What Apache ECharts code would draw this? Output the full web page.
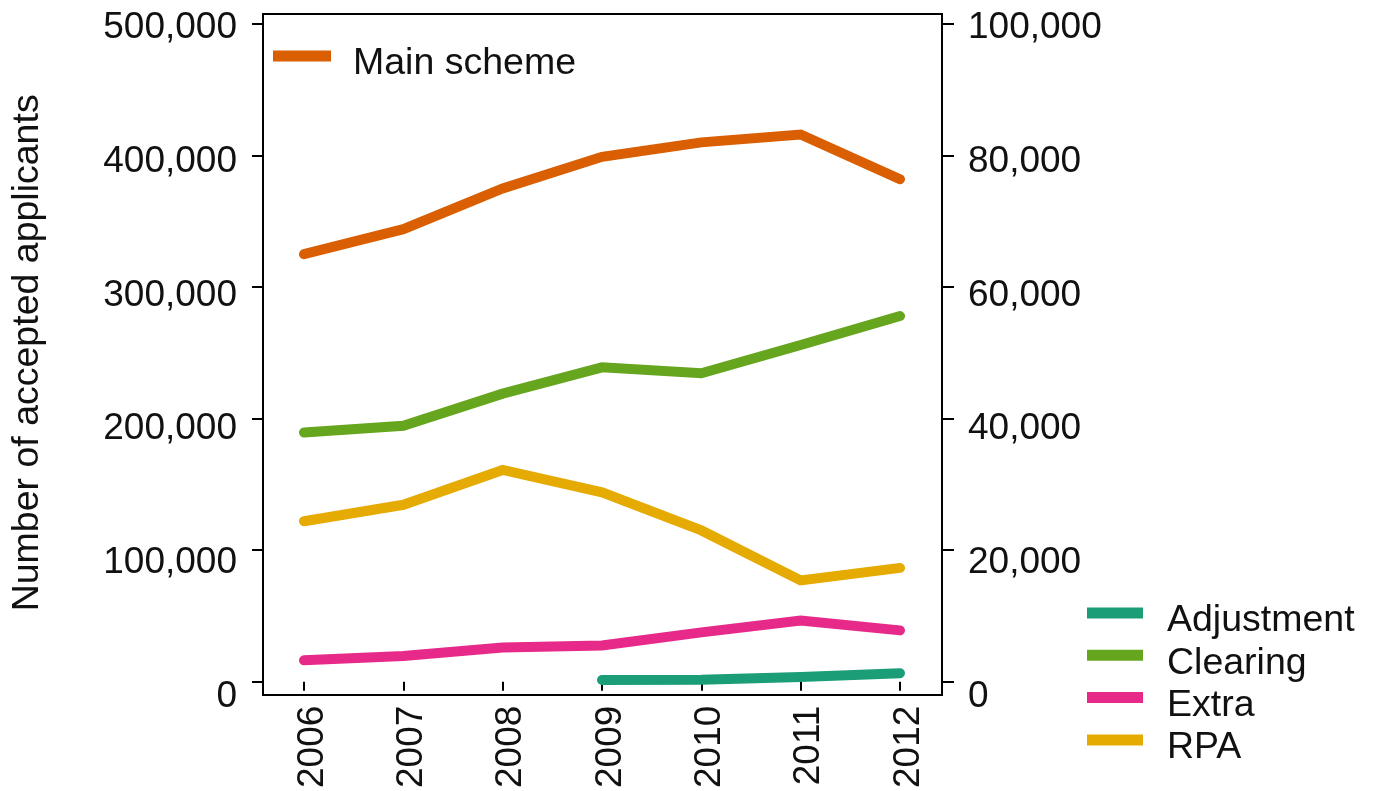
<!DOCTYPE html>
<html>
<head>
<meta charset="utf-8">
<script src="https://cdn.jsdelivr.net/npm/echarts@6/dist/echarts.min.js"></script>
<style>
html,body{margin:0;padding:0;background:#fff;}
#chart{width:1374px;height:791px;}
</style>
</head>
<body>
<div id="chart"></div>
<script>
// ---- data ----
const years = ['2006','2007','2008','2009','2010','2011','2012'];
const mainScheme = [325000, 344000, 375000, 399000, 410000, 416000, 382000];
const adjustment = [null, null, null, 250, 300, 700, 1300];
const clearing = [37900, 38900, 43800, 47800, 46900, 51200, 55600];
const extra = [3250, 3900, 5200, 5500, 7500, 9300, 7800];
const rpa = [24400, 26900, 32200, 28800, 23000, 15400, 17300];
const leftTicks = {min: 0, max: 500000, interval: 100000};
const rightTicks = {min: 0, max: 100000, interval: 20000};
const yTitle = 'Number of accepted applicants';

const FONT = 'Liberation Sans, Arial, Helvetica, sans-serif';
const TXT = '#111';
const fmt = v => Number(v).toLocaleString('en-US');

const chart = echarts.init(document.getElementById('chart'), null, {renderer: 'canvas'});

function lineSeries(name, data, color, yIdx) {
  return {
    name: name, type: 'line', data: data,
    xAxisIndex: 1, yAxisIndex: yIdx,
    showSymbol: false, symbol: 'none', connectNulls: false,
    lineStyle: {width: 10, color: color, cap: 'round', join: 'miter'},
    itemStyle: {color: color},
    emphasis: {disabled: true},
    animation: false
  };
}

const legendText = {fontFamily: FONT, fontSize: 37.5, color: TXT, lineHeight: 36};
const tickStyle = {color: '#000', width: 2};

// tick-only value axis (grid 1) and label-only value axis (grid 2)
function tickAxis(pos, offset, ticks, len, extra) {
  return Object.assign({gridIndex: 1, type: 'value', position: pos, offset: offset,
    min: ticks.min, max: ticks.max, interval: ticks.interval,
    axisLine: {show: false},
    axisTick: {show: true, length: len, lineStyle: tickStyle},
    axisLabel: {show: false},
    splitLine: {show: false}}, extra || {});
}
function labelAxis(pos, ticks) {
  return {gridIndex: 2, type: 'value', position: pos,
    min: ticks.min, max: ticks.max, interval: ticks.interval,
    axisLine: {show: false}, axisTick: {show: false}, splitLine: {show: false},
    axisLabel: {margin: 26, fontFamily: FONT, fontSize: 37, color: TXT, formatter: fmt}};
}

chart.setOption({
  backgroundColor: '#fff',
  animation: false,
  grid: [
    {left: 263, right: 432, top: 14, bottom: 96, show: true,
     borderColor: '#000', borderWidth: 2, backgroundColor: 'transparent'},
    {left: 304, right: 474, top: 24, bottom: 106.5},
    {left: 263, right: 432, top: 28, bottom: 94.5}
  ],
  xAxis: [
    {gridIndex: 0, type: 'value', show: false},
    {gridIndex: 1, type: 'category', data: years, boundaryGap: false, offset: 11,
     axisLine: {show: false},
     axisTick: {show: true, length: 9, lineStyle: tickStyle},
     axisLabel: {rotate: 90, margin: 13, fontFamily: FONT, fontSize: 37, color: TXT,
                 verticalAlign: 'top', lineHeight: 17},
     splitLine: {show: false}},
    {gridIndex: 2, type: 'value', show: false}
  ],
  yAxis: [
    {gridIndex: 0, type: 'value', show: false},
    tickAxis('left', 41, leftTicks, 11, {
      name: yTitle, nameLocation: 'middle', nameGap: 216, nameRotate: 90,
      nameTextStyle: {fontFamily: FONT, fontSize: 37.5, color: TXT}}),
    tickAxis('right', 42, rightTicks, 12),
    labelAxis('left', leftTicks),
    labelAxis('right', rightTicks)
  ],
  legend: [
    {data: ['Main scheme'], left: 273, top: 45, orient: 'vertical', padding: 0,
     icon: 'path://M0,0L58,0L58,11L0,11ZM75,27L75,27', symbolKeepAspect: false,
     itemWidth: 75, itemHeight: 27, selectedMode: false,
     textStyle: legendText},
    {data: ['Adjustment', 'Clearing', 'Extra', 'RPA'], left: 1087, top: 602,
     orient: 'vertical', padding: 0, itemGap: 4.3,
     icon: 'path://M0,0L56,0L56,11L0,11ZM75,27L75,27', symbolKeepAspect: false,
     itemWidth: 75, itemHeight: 27, selectedMode: false,
     textStyle: legendText}
  ],
  series: [
    lineSeries('Main scheme', mainScheme, '#d95f02', 1),
    lineSeries('RPA', rpa, '#e6ab02', 2),
    lineSeries('Clearing', clearing, '#66a61e', 2),
    lineSeries('Extra', extra, '#e7298a', 2),
    lineSeries('Adjustment', adjustment, '#1b9e77', 2)
  ]
});
</script>
</body>
</html>
